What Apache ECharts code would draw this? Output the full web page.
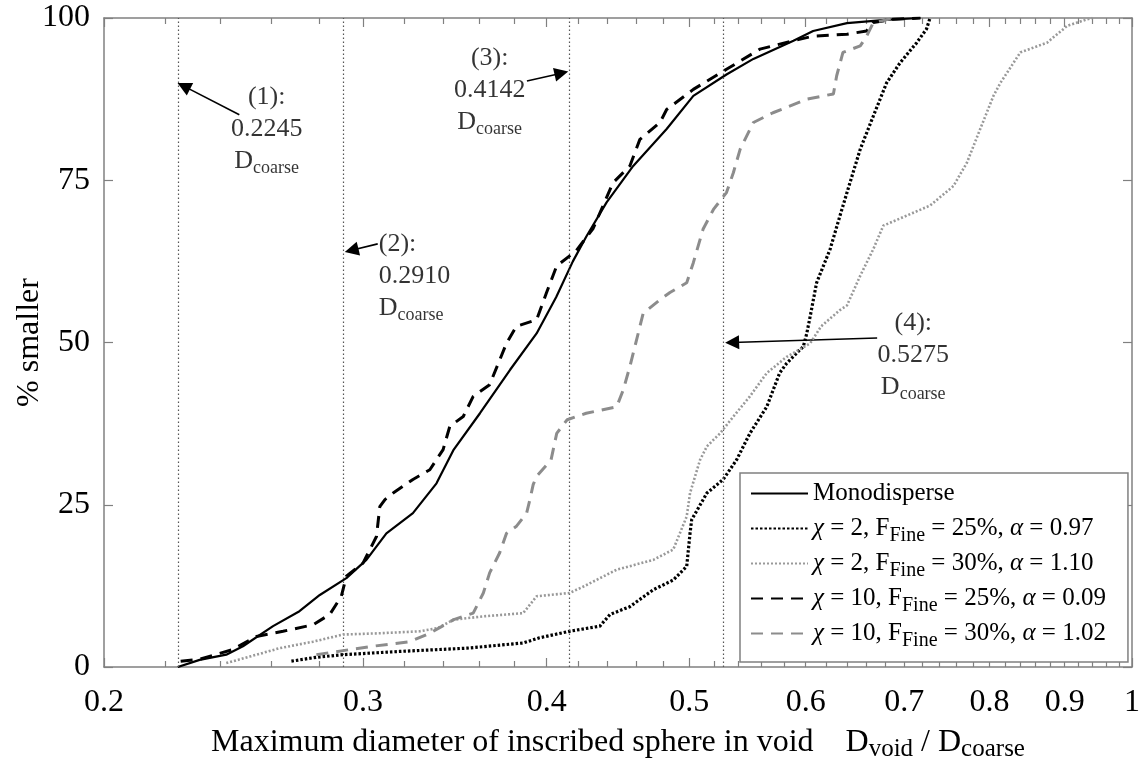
<!DOCTYPE html>
<html>
<head>
<meta charset="utf-8">
<script src="https://cdn.jsdelivr.net/npm/echarts@6/dist/echarts.min.js"></script>
<style>
  html, body { margin: 0; padding: 0; background: #fff; }
  #chart { width: 1145px; height: 765px; }
</style>
</head>
<body>
<div id="chart"></div>
<script>
// Cumulative size distributions of the largest sphere inscribed in a void,
// D_void / D_coarse on a logarithmic axis against the percentage smaller.

// Monodisperse packing
const monoX = [0.2245, 0.2323, 0.2422, 0.2486, 0.2606, 0.2716, 0.2804, 0.2923, 0.3016, 0.3112,
  0.3244, 0.3366, 0.3458, 0.3603, 0.3777, 0.3937, 0.4060, 0.4167, 0.4255, 0.4393,
  0.4580, 0.4826, 0.5032, 0.5300, 0.5528, 0.5886, 0.6070, 0.6400, 0.6800, 0.7180];
const monoY = [0, 1.1, 1.9, 3.2, 6.3, 8.6, 11.1, 13.7, 16.5, 20.6,
  23.7, 28.3, 33.5, 39.1, 45.8, 51.4, 57.0, 62.5, 66.3, 71.6,
  77.2, 82.9, 88.0, 91.3, 93.7, 96.5, 98.0, 99.2, 99.7, 100];

// chi = 2, F_Fine = 25 %
const chi2F25X = [0.2682, 0.2789, 0.2908, 0.3178, 0.3529, 0.3855, 0.3955, 0.4145, 0.4347, 0.4417,
  0.4556, 0.4726, 0.4876, 0.4980, 0.5006, 0.5019, 0.5140, 0.5273, 0.5384, 0.5498,
  0.5645, 0.5760, 0.5824, 0.5978, 0.6010, 0.6043, 0.6103, 0.6234, 0.6330, 0.6430,
  0.6535, 0.6670, 0.6810, 0.6955, 0.7139, 0.7249, 0.7289];
const chi2F25Y = [0.9, 1.5, 1.9, 2.4, 2.9, 3.7, 4.5, 5.5, 6.3, 8.1,
  9.3, 11.9, 13.4, 15.5, 20.6, 22.7, 26.8, 28.9, 31.9, 36.0,
  40.1, 45.3, 46.8, 49.4, 51.4, 54.1, 59.2, 64.4, 69.5, 74.6,
  79.8, 84.9, 90.0, 93.1, 96.2, 98.3, 100];

// chi = 2, F_Fine = 30 %
const chi2F30X = [0.2422, 0.2512, 0.2633, 0.2774, 0.2908, 0.3080, 0.3279, 0.3372, 0.3458, 0.3622,
  0.3855, 0.3937, 0.4145, 0.4237, 0.4463, 0.4726, 0.4876, 0.4927, 0.4980, 0.5006,
  0.5085, 0.5140, 0.5247, 0.5358, 0.5498, 0.5645, 0.5824, 0.6043, 0.6147, 0.6330,
  0.6400, 0.6535, 0.6670, 0.6775, 0.7102, 0.7289, 0.7561, 0.7722, 0.7885, 0.8050,
  0.8138, 0.8396, 0.8754, 0.9037, 0.9320, 0.9400];
const chi2F30Y = [0.6, 1.6, 2.9, 3.9, 5.0, 5.2, 5.5, 6.0, 7.3, 7.8,
  8.3, 10.9, 11.4, 12.4, 15.0, 16.5, 18.1, 20.6, 23.2, 26.8,
  31.9, 34.0, 36.0, 38.6, 41.7, 45.3, 47.8, 49.9, 52.5, 55.0,
  55.7, 60.3, 64.4, 68.0, 70.0, 71.1, 74.1, 77.7, 82.9, 88.0,
  90.0, 94.7, 96.2, 98.8, 99.8, 100];

// chi = 10, F_Fine = 25 %
const chi10F25X = [0.2255, 0.2323, 0.2447, 0.2539, 0.2647, 0.2774, 0.2848, 0.2900, 0.2923, 0.3000,
  0.3064, 0.3080, 0.3105, 0.3145, 0.3244, 0.3331, 0.3401, 0.3437, 0.3510, 0.3565,
  0.3658, 0.3716, 0.3756, 0.3815, 0.3937, 0.3999, 0.4063, 0.4187, 0.4300, 0.4437,
  0.4556, 0.4628, 0.4776, 0.4826, 0.5032, 0.5300, 0.5585, 0.5886, 0.6070, 0.6400,
  0.6600, 0.6670, 0.6880, 0.7180];
const chi10F25Y = [0.9, 1.2, 2.7, 4.7, 5.5, 6.5, 8.1, 10.9, 14.0, 16.0,
  20.1, 24.7, 25.8, 26.8, 28.9, 30.4, 33.5, 37.1, 38.6, 41.7,
  43.5, 47.3, 49.9, 52.5, 53.5, 57.7, 61.8, 64.1, 67.5, 74.6,
  77.2, 81.3, 83.9, 85.9, 89.0, 92.1, 95.2, 96.5, 97.2, 97.5,
  98.0, 99.3, 99.8, 100];

// chi = 10, F_Fine = 30 %
const chi10F30X = [0.2789, 0.2923, 0.3047, 0.3228, 0.3331, 0.3458, 0.3565, 0.3622, 0.3658, 0.3716,
  0.3756, 0.3815, 0.3876, 0.3896, 0.3916, 0.3937, 0.4027, 0.4063, 0.4130, 0.4255,
  0.4463, 0.4509, 0.4556, 0.4604, 0.4652, 0.4776, 0.4851, 0.4980, 0.5032, 0.5110,
  0.5193, 0.5300, 0.5358, 0.5415, 0.5528, 0.5700, 0.6010, 0.6266, 0.6298, 0.6360,
  0.6535, 0.6600, 0.6670, 0.6900];
const chi10F30Y = [1.9, 2.6, 3.2, 3.9, 5.2, 7.3, 8.3, 11.4, 14.5, 17.6,
  20.6, 21.7, 23.7, 25.8, 28.1, 29.4, 31.9, 36.0, 38.1, 39.1,
  40.1, 42.7, 46.3, 50.4, 54.5, 56.6, 57.7, 59.2, 62.3, 67.5,
  70.5, 73.1, 76.2, 79.8, 83.9, 85.4, 87.5, 88.3, 91.1, 94.7,
  95.7, 97.2, 99.3, 100];

// Geometric reference sizes (fractions of D_coarse)
const refLines = [0.2245, 0.2910, 0.4142, 0.5275];

// Axis ticks
const xTickValues = [0.2, 0.3, 0.4, 0.5, 0.6, 0.7, 0.8, 0.9, 1];
const yTickValues = [0, 25, 50, 75, 100];
const xMinorTicks = [];
for (let k = 22; k < 100; k += 2) {
  if (k % 10 !== 0) xMinorTicks.push(k / 100);
}

// Series names as shown in the legend
const seriesNames = [
  'Monodisperse',
  'χ = 2, F_Fine = 25%, α = 0.97',
  'χ = 2, F_Fine = 30%, α = 1.10',
  'χ = 10, F_Fine = 25%, α = 0.09',
  'χ = 10, F_Fine = 30%, α = 1.02'
];

// Annotation layout in data space: text block anchors, their alignment,
// and arrow tail -> head
const noteAnchors = [[0.258, 82.8], [0.3075, 60.2], [0.3658, 88.9], [0.710, 48.1]];
const noteAlign = ['center', 'left', 'center', 'center'];
const arrowPaths = [
  [[0.2472, 85.1], [0.2266, 89.5]],
  [[0.3070, 65.2], [0.2947, 64.2]],
  [[0.3878, 90.3], [0.4093, 91.5]],
  [[0.6710, 50.7], [0.5347, 50.0]]
];

const FONT = '"Liberation Serif", "Times New Roman", serif';
const INK = '#000000';
const FRAME = '#808080';
const GREY_LINE = '#8c8c8c';

const pairs = (xs, ys) => xs.map((x, i) => [x, ys[i]]);

function legendRich(name) {
  return name
    .replace('χ', '{it|χ}')
    .replace('α', '{it|α}')
    .replace('F_Fine', 'F{sub|Fine}');
}

function xAxisLayer(position, values, len, withLabels, withLine) {
  return {
    type: 'log', logBase: 10, min: 0.2, max: 1, position: position,
    splitLine: { show: false },
    axisLine: { show: withLine, lineStyle: { color: FRAME, width: 1.5 } },
    axisTick: { show: true, inside: true, length: len, customValues: values,
      lineStyle: { color: FRAME, width: 1.2 } },
    axisLabel: withLabels ? {
      show: true, customValues: values, margin: 20,
      fontFamily: FONT, fontSize: 32, color: INK,
      formatter: v => String(+(+v).toFixed(2))
    } : { show: false },
    name: withLabels ? 'Maximum diameter of inscribed sphere in void    D{sub|void} / D{sub|coarse}' : '',
    nameLocation: 'middle', nameGap: 57, nameMoveOverlap: false,
    nameTextStyle: {
      fontFamily: FONT, fontSize: 32, color: INK, lineHeight: 38,
      rich: { sub: { fontFamily: FONT, fontSize: 25, color: INK, lineHeight: 16, verticalAlign: 'bottom' } }
    }
  };
}

const lineStyles = [
  { color: '#000000', width: 2.2, type: 'solid' },
  { color: '#000000', width: 3.2, type: [2.5, 2] },
  { color: '#999999', width: 2.6, type: [2, 2] },
  { color: '#000000', width: 3, type: [12, 8] },
  { color: GREY_LINE, width: 3, type: [12, 8] }
];
const seriesData = [
  pairs(monoX, monoY),
  pairs(chi2F25X, chi2F25Y),
  pairs(chi2F30X, chi2F30Y),
  pairs(chi10F25X, chi10F25Y),
  pairs(chi10F30X, chi10F30Y)
];

const curveSeries = seriesNames.map((name, i) => ({
  name: name,
  type: 'line',
  data: seriesData[i],
  showSymbol: false,
  symbol: 'none',
  lineStyle: lineStyles[i],
  itemStyle: { color: lineStyles[i].color },
  z: 3 + i,
  animation: false
}));

const refLineStyle = { color: '#555', width: 1.2, type: [1.5, 2.5] };
const arrowStyle = { color: '#000', width: 1.6, type: 'solid' };

const noteSeries = {
  name: 'notes',
  type: 'scatter',
  data: noteAnchors.map((c, i) => ({ value: c, label: { align: noteAlign[i] } })),
  symbolSize: 0,
  silent: true,
  animation: false,
  z: 10,
  label: {
    show: true, position: 'inside', align: 'center', verticalAlign: 'middle',
    fontFamily: FONT, fontSize: 26, lineHeight: 32, color: INK,
    formatter: p => '(' + (p.dataIndex + 1) + '):\n' + refLines[p.dataIndex].toFixed(4) + '\n{d|D}{s|coarse}',
    rich: {
      d: { fontFamily: FONT, fontSize: 26, lineHeight: 32, color: INK },
      s: { fontFamily: FONT, fontSize: 18, lineHeight: 22, verticalAlign: 'bottom', color: INK }
    }
  },
  markLine: {
    silent: true,
    animation: false,
    precision: 6,
    label: { show: false },
    symbol: ['none', 'none'],
    lineStyle: arrowStyle,
    itemStyle: { color: '#000' },
    data: [
      // dotted reference lines spanning the full height
      ...refLines.map(v => [
        { coord: [v, 0], symbol: 'none', lineStyle: refLineStyle },
        { coord: [v, 100], symbol: 'none' }
      ]),
      // labelled arrows
      ...arrowPaths.map(p => [
        { coord: p[0], symbol: 'none', lineStyle: arrowStyle },
        { coord: p[1], symbol: 'triangle', symbolSize: 14 }
      ])
    ]
  }
};

const chart = echarts.init(document.getElementById('chart'), null, { renderer: 'canvas' });
chart.setOption({
  backgroundColor: '#ffffff',
  animation: false,
  textStyle: { fontFamily: FONT },
  grid: { left: 104, right: 13, top: 18, bottom: 98, containLabel: false, outerBoundsMode: 'none' },
  xAxis: [
    xAxisLayer('bottom', xTickValues, 9, true, true),
    xAxisLayer('bottom', xMinorTicks, 6, false, false),
    xAxisLayer('top', xTickValues, 9, false, true),
    xAxisLayer('top', xMinorTicks, 6, false, false)
  ],
  yAxis: [
    {
      type: 'value', min: 0, max: 100, interval: 25, position: 'left',
      splitLine: { show: false },
      axisLine: { show: true, lineStyle: { color: FRAME, width: 1.5 } },
      axisTick: { show: true, inside: true, length: 9, lineStyle: { color: FRAME, width: 1.2 } },
      axisLabel: { show: true, margin: 14, fontFamily: FONT, fontSize: 32, color: INK },
      name: '% smaller', nameLocation: 'middle', nameGap: 58, nameRotate: 90, nameMoveOverlap: false,
      nameTextStyle: { fontFamily: FONT, fontSize: 32, color: INK, lineHeight: 32 }
    },
    {
      type: 'value', min: 0, max: 100, interval: 25, position: 'right',
      splitLine: { show: false },
      axisLine: { show: true, lineStyle: { color: FRAME, width: 1.5 } },
      axisTick: { show: true, inside: true, length: 9, lineStyle: { color: FRAME, width: 1.2 } },
      axisLabel: { show: false }
    }
  ],
  legend: {
    data: seriesNames,
    orient: 'vertical',
    left: 740, top: 473,
    padding: [3, 22, 11, 10],
    itemGap: 0,
    itemWidth: 57, itemHeight: 14,
    itemStyle: { opacity: 0 },
    backgroundColor: '#ffffff',
    borderColor: FRAME, borderWidth: 1.5, borderRadius: 0,
    selectedMode: false,
    formatter: legendRich,
    textStyle: {
      fontFamily: FONT, fontSize: 25, color: INK, lineHeight: 35,
      rich: {
        it: { fontFamily: FONT, fontSize: 25, fontStyle: 'italic', color: INK, lineHeight: 35 },
        sub: { fontFamily: FONT, fontSize: 20, color: INK, lineHeight: 17, verticalAlign: 'bottom' }
      }
    }
  },
  series: [...curveSeries, noteSeries]
});
</script>
</body>
</html>
